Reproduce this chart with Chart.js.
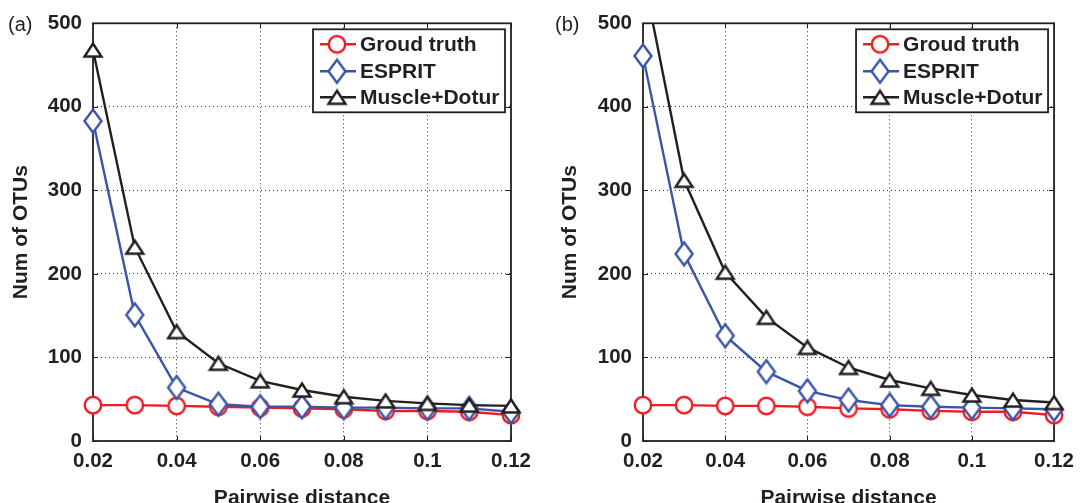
<!DOCTYPE html>
<html><head><meta charset="utf-8">
<script src="https://cdn.jsdelivr.net/npm/chart.js@4.4.1/dist/chart.umd.min.js"></script>
<style>
html,body{margin:0;padding:0;background:#fff;overflow:hidden;width:1082px;height:503px;}
.panel{position:absolute;top:0;width:541px;height:515px;}
.tag{position:absolute;font:20px "Liberation Sans",Arial,sans-serif;color:#231f20;line-height:20px;}
</style></head><body>
<div class="panel" style="left:0"><canvas id="ca" width="541" height="515"></canvas></div>
<div class="panel" style="left:541px"><canvas id="cb" width="541" height="515"></canvas></div>
<div class="tag" style="left:8px;top:14px">(a)</div>
<div class="tag" style="left:555px;top:14px">(b)</div>
<script>
// ---- data ----
const distances = [0.02, 0.03, 0.04, 0.05, 0.06, 0.07, 0.08, 0.09, 0.10, 0.11, 0.12];
const xTickValues = [0.02, 0.04, 0.06, 0.08, 0.10, 0.12];
const xTickLabels = ['0.02', '0.04', '0.06', '0.08', '0.1', '0.12'];
const yTickValues = [0, 100, 200, 300, 400, 500];
const yTickLabels = ['0', '100', '200', '300', '400', '500'];
const seriesNames = ['Groud truth', 'ESPRIT', 'Muscle+Dotur'];
const xTitle = 'Pairwise distance';
const yTitle = 'Num of OTUs';

const groundTruthA = [43, 43, 42, 41, 40, 39, 38, 36, 36, 35, 31];
const espritA      = [383, 151, 64, 44, 41, 41, 40, 40, 39, 39, 35];
const muscleA      = [468, 232, 131, 93, 72, 61, 53, 48, 45, 43, 42];

const groundTruthB = [43, 43, 42, 42, 41, 39, 38, 36, 35, 35, 31];
const espritB      = [461, 224, 126, 83, 60, 49, 43, 41, 40, 39, 38];
const muscleB      = [560, 312, 202, 148, 112, 88, 73, 63, 55, 49, 46];

// ---- styles ----
const RED = '#ec1c24', BLUE = '#3a55a5', BLACK = '#231f20';
const FONT = '"Liberation Sans", Arial, Helvetica, sans-serif';
const LW = 2.4;

function markerCanvas(kind, color) {
  const c = document.createElement('canvas');
  if (kind === 'circle') { c.width = 22; c.height = 22; }
  else if (kind === 'diamond') { c.width = 22; c.height = 28; }
  else { c.width = 22; c.height = 18; }
  const g = c.getContext('2d');
  g.lineWidth = LW; g.strokeStyle = color; g.fillStyle = '#fff'; g.lineJoin = 'miter';
  g.beginPath();
  if (kind === 'circle') {
    g.arc(11, 11, 8.2, 0, Math.PI * 2);
  } else if (kind === 'diamond') {
    g.moveTo(11, 2.5); g.lineTo(19.5, 14); g.lineTo(11, 25.5); g.lineTo(2.5, 14); g.closePath();
  } else {
    g.moveTo(11, 2.5); g.lineTo(19.5, 15.5); g.lineTo(2.5, 15.5); g.closePath();
  }
  g.fill(); g.stroke();
  return c;
}
const circleImg = markerCanvas('circle', RED);
const diamondImg = markerCanvas('diamond', BLUE);
const triangleImg = markerCanvas('triangle', BLACK);

const framePlugin = {
  id: 'frame',
  beforeDatasetsDraw(chart) {
    const {ctx, chartArea: a, scales} = chart;
    ctx.save();
    ctx.strokeStyle = BLACK; ctx.lineWidth = 1.8;
    ctx.strokeRect(a.left, a.top, a.right - a.left, a.bottom - a.top);
    ctx.lineWidth = 1;
    ctx.beginPath();
    xTickValues.forEach(v => {
      const x = Math.round(scales.x.getPixelForValue(v)) + 0.5;
      ctx.moveTo(x, a.bottom); ctx.lineTo(x, a.bottom - 5);
      ctx.moveTo(x, a.top); ctx.lineTo(x, a.top + 5);
    });
    yTickValues.forEach(v => {
      const y = Math.round(scales.y.getPixelForValue(v)) + 0.5;
      ctx.moveTo(a.left, y); ctx.lineTo(a.left + 5, y);
      ctx.moveTo(a.right, y); ctx.lineTo(a.right - 5, y);
    });
    ctx.stroke();
    ctx.restore();
  },
  afterDraw(chart) {
    const {ctx, chartArea: a} = chart;
    const w = 192, h = 83;
    const left = a.right - 6 - w, top = a.top + 6;
    ctx.save();
    ctx.fillStyle = '#fff';
    ctx.fillRect(left, top, w, h);
    ctx.strokeStyle = BLACK; ctx.lineWidth = 1.8;
    ctx.strokeRect(left, top, w, h);
    const rows = [15, 42, 68];
    const imgs = [circleImg, diamondImg, triangleImg];
    const cols = [RED, BLUE, BLACK];
    ctx.font = 'bold 21px ' + FONT;
    ctx.textBaseline = 'middle';
    ctx.textAlign = 'left';
    seriesNames.forEach((name, i) => {
      const y = top + rows[i];
      ctx.strokeStyle = cols[i]; ctx.lineWidth = LW;
      ctx.beginPath(); ctx.moveTo(left + 7, y); ctx.lineTo(left + 43, y); ctx.stroke();
      const im = imgs[i];
      ctx.drawImage(im, left + 24 - im.width / 2, y - im.height / 2);
      ctx.fillStyle = BLACK;
      ctx.fillText(name, left + 47, y + 1);
    });
    ctx.restore();
  }
};

function makeChart(id, gt, es, md, leftW, rightPad, titlePad) {
  const series = [gt, es, md];
  const imgs = [circleImg, diamondImg, triangleImg];
  const cols = [RED, BLUE, BLACK];
  const datasets = series.map((s, i) => ({
    label: seriesNames[i],
    data: distances.map((x, j) => ({x: x, y: s[j]})),
    borderColor: cols[i],
    backgroundColor: '#fff',
    borderWidth: LW,
    tension: 0,
    fill: false,
    pointStyle: imgs[i],
    pointRadius: 9,
    pointHoverRadius: 9,
    clip: {left: 16, right: 16, top: 0, bottom: 16},
    order: 3 - i
  }));
  const gridColor = (vals) => (ctx) => {
    const v = ctx.tick && ctx.tick.value;
    return (v === vals[0] || v === vals[vals.length - 1]) ? 'rgba(0,0,0,0)' : '#333';
  };
  return new Chart(document.getElementById(id), {
    type: 'line',
    data: {datasets},
    plugins: [framePlugin],
    options: {
      responsive: false,
      animation: false,
      events: [],
      layout: {padding: {top: 23, right: rightPad, left: 0, bottom: 0}},
      plugins: {legend: {display: false}, tooltip: {enabled: false}},
      scales: {
        x: {
          type: 'linear', position: 'bottom', min: 0.02, max: 0.12,
          afterBuildTicks: s => { s.ticks = xTickValues.map(v => ({value: v})); },
          afterFit: s => { s.height = 74; },
          ticks: {
            callback: (v, i) => xTickLabels[i],
            font: {family: FONT, size: 20.5, weight: 'bold'}, color: BLACK,
            padding: 8, maxRotation: 0, autoSkip: false
          },
          grid: {color: gridColor(xTickValues), lineWidth: 1, drawTicks: false},
          border: {display: false, dash: [1, 3]},
          title: {display: true, text: xTitle, color: BLACK,
                  font: {family: FONT, size: 21, weight: 'bold'}, padding: {top: 0, bottom: 4}}
        },
        y: {
          type: 'linear', min: 0, max: 500,
          afterBuildTicks: s => { s.ticks = yTickValues.map(v => ({value: v})); },
          afterFit: s => { s.width = leftW; },
          ticks: {
            callback: (v, i) => yTickLabels[i],
            font: {family: FONT, size: 20.5, weight: 'bold'}, color: BLACK, padding: 11
          },
          grid: {color: gridColor(yTickValues), lineWidth: 1, drawTicks: false},
          border: {display: false, dash: [1, 3]},
          title: {display: true, text: yTitle, color: BLACK,
                  font: {family: FONT, size: 21, weight: 'bold'}, padding: {top: titlePad, bottom: 0}}
        }
      }
    }
  });
}

makeChart('ca', groundTruthA, espritA, muscleA, 93, 30, 9);
makeChart('cb', groundTruthB, espritB, muscleB, 102, 21, 17);
</script>
</body></html>
